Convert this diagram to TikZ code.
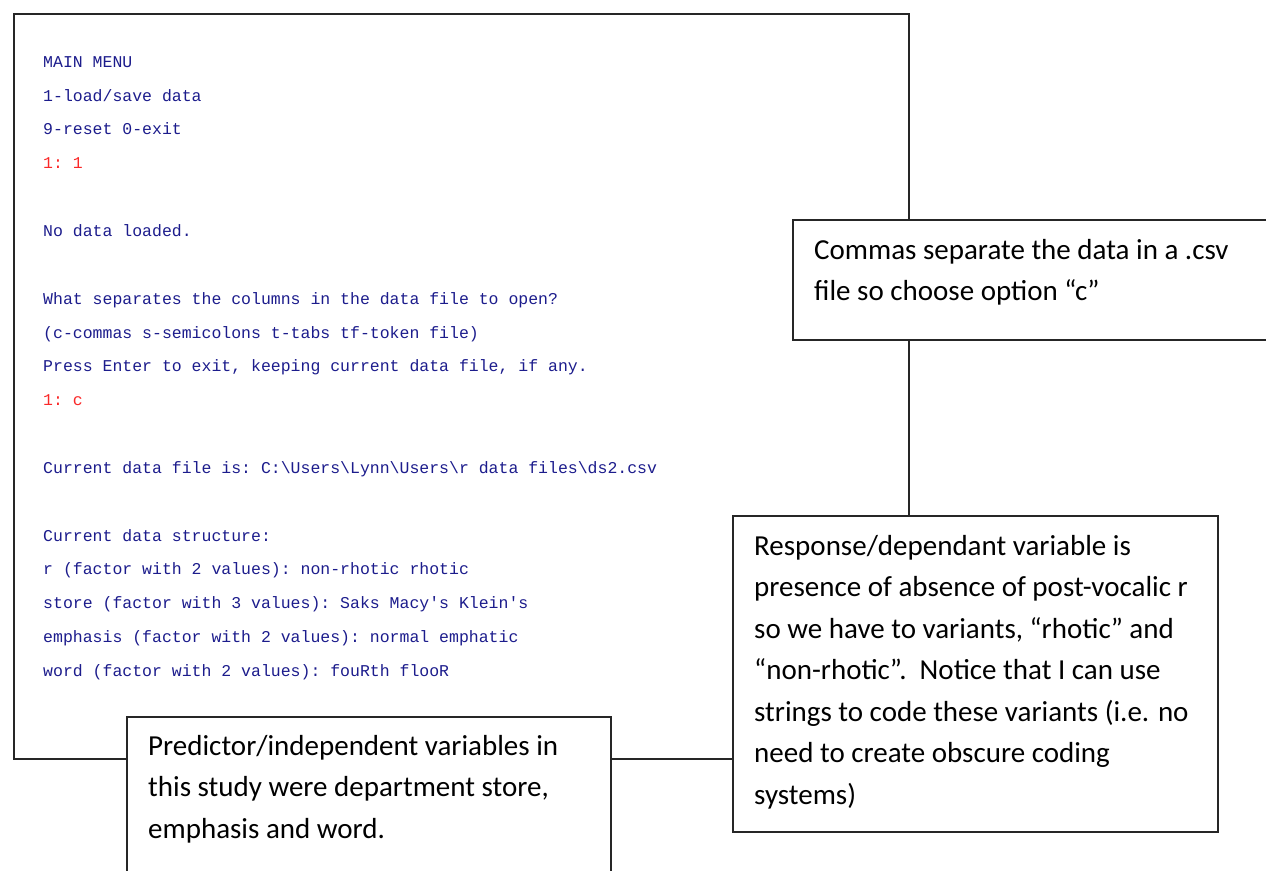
\documentclass[tikz,border=0pt]{standalone}
\usepackage{fontspec}
\setmonofont{Liberation Mono}
\newfontfamily\calibrifont{Carlito}
\definecolor{consoleblue}{RGB}{28,28,140}
\definecolor{consolered}{RGB}{250,40,40}
\tikzset{
  mainbox/.style={draw=black!85, line width=1.8pt, minimum width=895pt, minimum height=745pt, anchor=north west, inner sep=0pt, outer sep=0pt},
  callbox/.style={draw=black!85, fill=white, line width=1.5pt, anchor=north west, inner sep=0pt, outer sep=0pt},
  consoletext/.style={anchor=north west, inner sep=0pt, align=left, text=consoleblue, font=\ttfamily\fontsize{16.5pt}{33.85pt}\selectfont},
  calltext/.style={anchor=north west, inner sep=0pt, align=left, text=black, font=\calibrifont\fontsize{29pt}{41.5pt}\selectfont}
}
\begin{document}
\begin{tikzpicture}[x=1pt,y=-1pt]
\useasboundingbox (0,0) rectangle (1266,870);
\node[mainbox] (main) at (14,14) {};
\node[consoletext] (console) at (43,{67-0.7*33.85}) {%
\strut MAIN MENU\\
\strut 1-load/save data\\
\strut 9-reset 0-exit\\
\strut\textcolor{consolered}{1: 1}\\
\strut\\
\strut No data loaded.\\
\strut\\
\strut What separates the columns in the data file to open?\\
\strut (c-commas s-semicolons t-tabs tf-token file)\\
\strut Press Enter to exit, keeping current data file, if any.\\
\strut\textcolor{consolered}{1: c}\\
\strut\\
\strut Current data file is: C:\textbackslash Users\textbackslash Lynn\textbackslash Users\textbackslash r data files\textbackslash ds2.csv\\
\strut\\
\strut Current data structure:\\
\strut r (factor with 2 values): non-rhotic rhotic\\
\strut store (factor with 3 values): Saks Macy's Klein's\\
\strut emphasis (factor with 2 values): normal emphatic\\
\strut word (factor with 2 values): fouRth flooR};
% callout: commas
\node[callbox, minimum width=490pt, minimum height=120pt] (commas) at (793,220) {};
\node[calltext] (commastext) at (814,{259-0.7*41.5}) {%
\strut Commas separate the data in a .csv\\
\strut file so choose option “c”};
% callout: response
\node[callbox, minimum width=485pt, minimum height=316pt] (response) at (733,516) {};
\node[calltext] (responsetext) at (754,{555-0.7*41.5}) {%
\strut Response/dependant variable is\\
\strut presence of absence of post-vocalic r\\
\strut so we have to variants, “rhotic” and\\
\strut “non-rhotic”.\ \ Notice that I can use\\
\strut strings to code these variants (i.e. no\\
\strut need to create obscure coding\\
\strut systems)};
% callout: predictor
\node[callbox, minimum width=484pt, minimum height=170pt] (predictor) at (127,717) {};
\node[calltext] (predictortext) at (148,{755-0.7*41.5}) {%
\strut Predictor/independent variables in\\
\strut this study were department store,\\
\strut emphasis and word.};
\end{tikzpicture}
\end{document}
